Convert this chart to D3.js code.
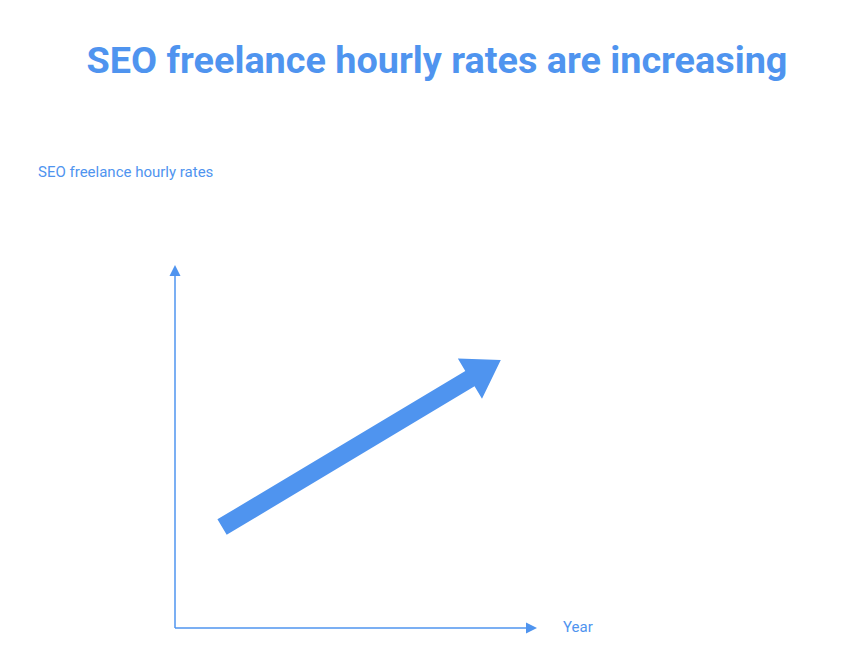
<!DOCTYPE html>
<html>
<head>
<meta charset="utf-8">
<script src="https://cdn.jsdelivr.net/npm/d3@7"></script>
<style>
  body { margin: 0; background: #fff; }
  text { font-family: Roboto, sans-serif; }
</style>
</head>
<body>
<div id="chart"></div>
<script>
const title = 'SEO freelance hourly rates are increasing';
const yLabel = 'SEO freelance hourly rates';
const xLabel = 'Year';

// schematic trend, in percent of the axis range
const trendX = [13, 90];
const trendY = [27.8, 73.8];

const width = 863;
const height = 662;
const color = '#4f94ef';

const svg = d3.select('#chart')
  .append('svg')
  .attr('width', width)
  .attr('height', height);

const x = d3.scaleLinear().domain([0, 100]).range([175, 537]);
const y = d3.scaleLinear().domain([0, 100]).range([628, 265]);

svg.append('text')
  .attr('x', 437)
  .attr('y', 73)
  .attr('text-anchor', 'middle')
  .attr('font-size', 37.8)
  .attr('font-weight', 700)
  .attr('fill', color)
  .text(title);

svg.append('text')
  .attr('x', 38)
  .attr('y', 177)
  .attr('font-size', 15)
  .attr('fill', color)
  .text(yLabel);

svg.append('text')
  .attr('x', 563)
  .attr('y', 632)
  .attr('font-size', 15)
  .attr('fill', color)
  .text(xLabel);

// axes with arrow heads
const axis = svg.append('g').attr('stroke', color).attr('stroke-width', 1.5);
axis.append('line')
  .attr('x1', x(0)).attr('y1', y(0))
  .attr('x2', x(0)).attr('y2', y(100) + 8);
axis.append('line')
  .attr('x1', x(0)).attr('y1', y(0))
  .attr('x2', x(100) - 8).attr('y2', y(0));

svg.append('path')
  .attr('fill', color)
  .attr('d', `M${x(0)},${y(100)} L${x(0) - 5.5},${y(100) + 11} L${x(0) + 5.5},${y(100) + 11} Z`);
svg.append('path')
  .attr('fill', color)
  .attr('d', `M${x(100)},${y(0)} L${x(100) - 11},${y(0) - 5.5} L${x(100) - 11},${y(0) + 5.5} Z`);

// thick trend arrow
const x0 = x(trendX[0]);
const y0 = y(trendY[0]);
const x1 = x(trendX[1]);
const y1 = y(trendY[1]);
const len = Math.hypot(x1 - x0, y1 - y0);
const ang = Math.atan2(y1 - y0, x1 - x0) * 180 / Math.PI;
const shaft = 18;
const headLen = 36;
const headW = 47;

svg.append('path')
  .attr('fill', color)
  .attr('transform', `translate(${x0},${y0}) rotate(${ang})`)
  .attr('d', [
    `M0,${-shaft / 2}`,
    `L${len - headLen},${-shaft / 2}`,
    `L${len - headLen},${-headW / 2}`,
    `L${len},0`,
    `L${len - headLen},${headW / 2}`,
    `L${len - headLen},${shaft / 2}`,
    `L0,${shaft / 2}`,
    'Z',
  ].join(' '));
</script>
</body>
</html>
